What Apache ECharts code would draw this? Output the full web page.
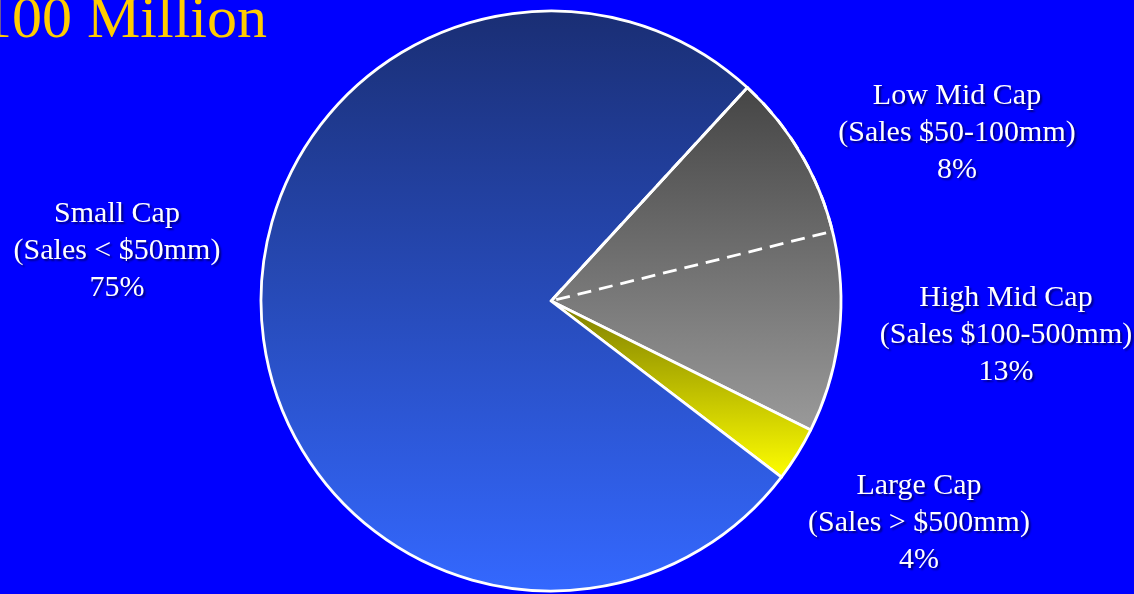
<!DOCTYPE html>
<html>
<head>
<meta charset="utf-8">
<script src="https://cdn.jsdelivr.net/npm/echarts@6/dist/echarts.min.js"></script>
<style>html,body{margin:0;padding:0;background:#0000FF;}#c{width:1134px;height:594px;}</style>
</head>
<body>
<div id="c"></div>
<script>
// Data (clockwise order starting at the upper-right edge)
var categories = ['Low Mid Cap', 'High Mid Cap', 'Large Cap', 'Small Cap'];
var subtitles = ['(Sales $50-100mm)', '(Sales $100-500mm)', '(Sales > $500mm)', '(Sales < $50mm)'];
var pctLabels = ['8%', '13%', '4%', '75%'];
// slice shares as drawn in the picture
var shares = [9.3, 11.2, 3.05, 76.45];
var titleText = '$100 Million';

// Styles / layout (kept separate from data)
var labelPos = [[957, 133], [1006, 335], [919, 523], [117, 251]];
var gradBlue = {type:'linear', x:0, y:0, x2:0, y2:1, colorStops:[{offset:0, color:'#1a2e74'},{offset:1, color:'#3468ff'}]};
var gradGray = {type:'linear', x:0, y:0, x2:0, y2:1, colorStops:[{offset:0, color:'#454545'},{offset:1, color:'#9a9a9a'}]};
var gradYellow = {type:'linear', x:0, y:0, x2:0, y2:1, colorStops:[{offset:0, color:'#7c7c00'},{offset:1, color:'#ffff00'}]};

var center = [551, 301];
var radius = 290;
var startAngle = 47.4;

// fill series: the two mid cap groups share one shaded slice
var fillData = [
  {name: 'Mid Cap', value: shares[0] + shares[1], itemStyle: {color: gradGray}},
  {name: categories[2], value: shares[2], itemStyle: {color: gradYellow}},
  {name: categories[3], value: shares[3], itemStyle: {color: gradBlue}}
];

var lineData = categories.map(function (c, i) {
  return {
    name: c,
    value: shares[i],
    itemStyle: i === 0 ? {color: 'rgba(0,0,0,0)', borderColor: '#ffffff', borderWidth: 2.8, borderType: [14, 8]}
                       : {color: 'rgba(0,0,0,0)', borderWidth: 0}
  };
});

var chart = echarts.init(document.getElementById('c'));
chart.setOption({
  backgroundColor: '#0000FF',
  animation: false,
  title: {
    text: titleText,
    left: -48,
    top: -9,
    padding: 0,
    textStyle: {color: '#FFCC00', fontFamily: 'Liberation Serif', fontWeight: 'normal', fontSize: 60}
  },
  series: [
    {
      type: 'pie',
      center: center,
      radius: radius,
      startAngle: startAngle,
      clockwise: true,
      silent: true,
      label: {show: false},
      labelLine: {show: false},
      emphasis: {disabled: true},
      itemStyle: {borderColor: '#ffffff', borderWidth: 2.8},
      data: fillData
    },
    {
      type: 'pie',
      center: center,
      radius: radius,
      startAngle: startAngle,
      clockwise: true,
      silent: true,
      emphasis: {disabled: true},
      labelLine: {show: false},
      label: {
        show: true,
        position: 'outside',
        overflow: 'none',
        width: 400,
        color: '#ffffff',
        fontFamily: 'Liberation Serif',
        fontSize: 30,
        lineHeight: 37,
        textShadowColor: 'rgba(0,0,40,0.6)',
        textShadowBlur: 2,
        textShadowOffsetX: 2,
        textShadowOffsetY: 2,
        formatter: function (p) {
          var i = p.dataIndex;
          return categories[i] + '\n' + subtitles[i] + '\n' + pctLabels[i];
        }
      },
      labelLayout: function (params) {
        var p = labelPos[params.dataIndex];
        return {x: p[0], y: p[1], align: 'center', verticalAlign: 'middle', hideOverlap: false};
      },
      data: lineData
    }
  ]
});
</script>
</body>
</html>
